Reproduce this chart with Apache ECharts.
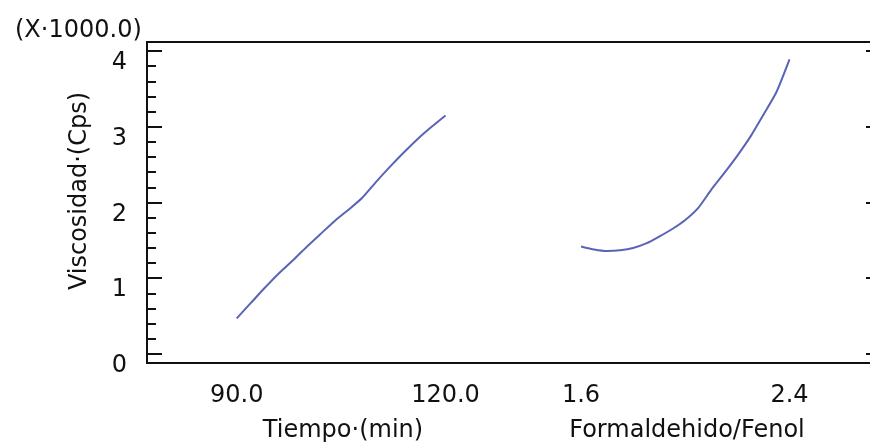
<!DOCTYPE html>
<html>
<head>
<meta charset="utf-8">
<script src="https://cdn.jsdelivr.net/npm/echarts@6/dist/echarts.min.js"></script>
<style>
  html, body { margin: 0; padding: 0; background: #fff; }
  #chart { width: 870px; height: 446px; }
</style>
</head>
<body>
<div id="chart"></div>
<script>
// Factor 1: Tiempo (min)
const tiempo = [90, 92, 94, 96, 98, 100, 102, 104, 106, 108, 110, 112, 114, 116, 118, 120]
const viscTiempo = [0.47, 0.67, 0.87, 1.06, 1.23, 1.41, 1.58, 1.75, 1.90, 2.06, 2.27, 2.47, 2.66, 2.84, 3.00, 3.15]

// Factor 2: Formaldehido/Fenol
const formFenol = [1.60, 1.65, 1.70, 1.75, 1.80, 1.85, 1.90, 1.95, 2.00, 2.05, 2.10, 2.15, 2.20, 2.25, 2.30, 2.35, 2.40]
const viscFormFenol = [1.42, 1.38, 1.36, 1.37, 1.40, 1.46, 1.55, 1.65, 1.77, 1.93, 2.17, 2.39, 2.62, 2.87, 3.16, 3.46, 3.89]

// tick labels
const yMajor = [0, 1, 2, 3, 4]
const yMinor = [0.2, 0.4, 0.6, 0.8, 1.2, 1.4, 1.6, 1.8, 2.2, 2.4, 2.6, 2.8, 3.2, 3.4, 3.6, 3.8]
const tiempoTicks = [90, 120]
const formFenolTicks = [1.6, 2.4]

const FONT = 'DejaVu Sans'
const TEXT = '#111'
const LINE = '#5b63b7'

const chart = echarts.init(document.getElementById('chart'), null, { renderer: 'canvas' })

const labelStyle = {
  fontFamily: FONT,
  fontSize: 24,
  lineHeight: 24,
  color: TEXT
}

const tickStyle = { color: '#111', width: 2 }

// shared y range, the tick axes only differ in tick values / length
function yAxisBase(position) {
  return {
    type: 'value',
    position,
    offset: 0,
    min: -0.12,
    max: 4.12,
    axisLine: { show: false },
    splitLine: { show: false },
    axisLabel: { show: false },
    axisTick: { show: false }
  }
}

const option = {
  animation: false,
  grid: {
    left: 147,
    top: 42,
    width: 728,
    height: 321,
    outerBoundsMode: 'none',
    show: true,
    borderColor: '#111',
    borderWidth: 2,
    backgroundColor: 'transparent'
  },
  xAxis: [
    {
      type: 'value',
      position: 'bottom',
      offset: 0,
      min: 77.11,
      max: 181.7,
      axisLine: { show: false },
      axisTick: { show: false },
      splitLine: { show: false },
      axisLabel: {
        ...labelStyle,
        customValues: tiempoTicks,
        margin: 21,
        formatter: (v) => v.toFixed(1)
      }
    },
    {
      type: 'value',
      position: 'bottom',
      offset: 0,
      min: -0.0654,
      max: 2.728,
      axisLine: { show: false },
      axisTick: { show: false },
      splitLine: { show: false },
      axisLabel: {
        ...labelStyle,
        customValues: formFenolTicks,
        margin: 21,
        formatter: (v) => v.toFixed(1)
      }
    }
  ],
  yAxis: [
    {
      ...yAxisBase('left'),
      axisLabel: {
        ...labelStyle,
        customValues: yMajor,
        margin: 20,
        verticalAlign: 'top'
      }
    },
    {
      ...yAxisBase('left'),
      axisTick: { show: true, customValues: yMajor, inside: true, length: 15, lineStyle: tickStyle }
    },
    {
      ...yAxisBase('left'),
      axisTick: { show: true, customValues: yMinor, inside: true, length: 9, lineStyle: tickStyle }
    },
    {
      ...yAxisBase('right'),
      axisTick: { show: true, customValues: yMajor, inside: true, length: 9, lineStyle: tickStyle }
    }
  ],
  series: [
    {
      name: 'Tiempo',
      type: 'line',
      xAxisIndex: 0,
      yAxisIndex: 0,
      showSymbol: false,
      smooth: 0.2,
      lineStyle: { color: LINE, width: 2 },
      data: tiempo.map((t, i) => [t, viscTiempo[i]])
    },
    {
      name: 'Formaldehido/Fenol',
      type: 'line',
      xAxisIndex: 1,
      yAxisIndex: 0,
      showSymbol: false,
      smooth: 0.2,
      lineStyle: { color: LINE, width: 2 },
      data: formFenol.map((f, i) => [f, viscFormFenol[i]])
    }
  ],
  graphic: [
    {
      type: 'text',
      x: 15,
      y: 19,
      style: {
        text: '(X·1000.0)',
        font: '24px "DejaVu Sans"',
        fill: TEXT,
        align: 'left',
        verticalAlign: 'top'
      }
    },
    {
      type: 'text',
      x: 80,
      y: 191,
      rotation: Math.PI / 2,
      style: {
        text: 'Viscosidad·(Cps)',
        font: '24px "DejaVu Sans"',
        fill: TEXT,
        align: 'center',
        verticalAlign: 'middle'
      }
    },
    {
      type: 'text',
      x: 343,
      y: 419,
      style: {
        text: 'Tiempo·(min)',
        font: '24px "DejaVu Sans"',
        fill: TEXT,
        align: 'center',
        verticalAlign: 'top'
      }
    },
    {
      type: 'text',
      x: 687,
      y: 419,
      style: {
        text: 'Formaldehido/Fenol',
        font: '24px "DejaVu Sans"',
        fill: TEXT,
        align: 'center',
        verticalAlign: 'top'
      }
    }
  ]
}

chart.setOption(option)
</script>
</body>
</html>
